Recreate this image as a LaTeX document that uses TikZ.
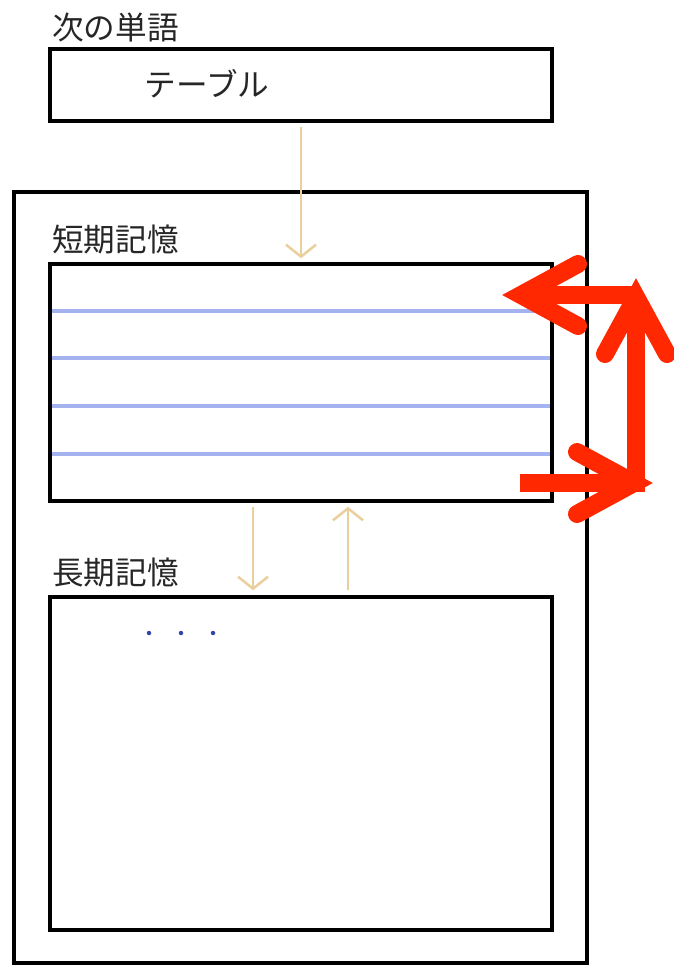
\documentclass[tikz,border=0pt]{standalone}
\usepackage{fontspec}
\newfontfamily\jpfont{Noto Sans CJK JP}
\usetikzlibrary{arrows.meta}

\definecolor{memtan}{HTML}{E8CF9C}
\definecolor{ruleblue}{HTML}{A4B2F0}
\definecolor{dotblue}{HTML}{3444A8}
\definecolor{hotred}{HTML}{FF2800}

\begin{document}
\begin{tikzpicture}[x=0.02cm, y=-0.02cm,
    box/.style={draw, line width=0.07cm, inner sep=0pt, minimum width=10.04cm},
    heading/.style={anchor=west, inner sep=0pt, text=black!85, font=\jpfont\fontsize{18pt}{20pt}\selectfont},
    feed/.style={draw=memtan, line width=0.05cm, -{Straight Barb[length=0.24cm, width=0.6cm]}},
    warn/.style={draw=hotred, line width=0.36cm},
    warnhead/.style={warn, line cap=round, line join=miter}]

    \useasboundingbox (0,0) rectangle (673,966);

    % Coordinates
    \coordinate (loopin) at (520,483);
    \coordinate (loopcorner) at (636,492);
    \coordinate (looptop) at (638,295);
    \coordinate (tipright) at (634,483);
    \coordinate (tipup) at (636,297);
    \coordinate (tipleft) at (521,295);

    % Lines in short-term memory
    \foreach \y in {311,358,406,454}
        \draw[ruleblue, line width=0.07cm] (51,\y) -- (551,\y);

    % Boxes
    \node[box, minimum height=1.44cm] (word) at (301,85) {};
    \node[box, minimum width=11.46cm, minimum height=15.42cm] (mind) at (300.5,577.5) {};
    \node[box, minimum height=4.74cm] (short) at (301,382.5) {};
    \node[box, minimum height=6.66cm] (long) at (301,763.5) {};

    % Labels
    \node[heading] (wordlabel) at (52,27) {次の単語};
    \node[heading, anchor=center] (wordtext) at (207,84) {テーブル};
    \node[heading] (shortlabel) at (52,240) {短期記憶};
    \node[heading] (longlabel) at (52,573) {長期記憶};

    % Dots
    \foreach \x in {149,181,213}
        \fill[dotblue] (\x,633) circle (0.045cm);

    % Transfer arrows
    \draw[feed, shorten <=0.08cm, shorten >=0.08cm] (word.south) -- (short.north);
    \draw[feed, shorten <=0.08cm, shorten >=0.1cm] ([xshift=-0.96cm]short.south) -- ([xshift=-0.96cm]long.north);
    \draw[feed, shorten <=0.1cm, shorten >=0.08cm] ([xshift=0.94cm]long.north) -- ([xshift=0.94cm]short.south);

    % Rehearsal loop
    \draw[warn] (loopcorner) -- (tipup);
    \draw[warn] (looptop) -- (tipleft);
    \draw[warn] (loopin) -- (tipright);
    \draw[warnhead] (tipup) ++(-31,57) -- (tipup) -- ++(31,57);
    \draw[warnhead] (tipleft) ++(57,-31) -- (tipleft) -- ++(57,31);
    \draw[warnhead] (tipright) ++(-57,-31) -- (tipright) -- ++(-57,31);

\end{tikzpicture}
\end{document}
